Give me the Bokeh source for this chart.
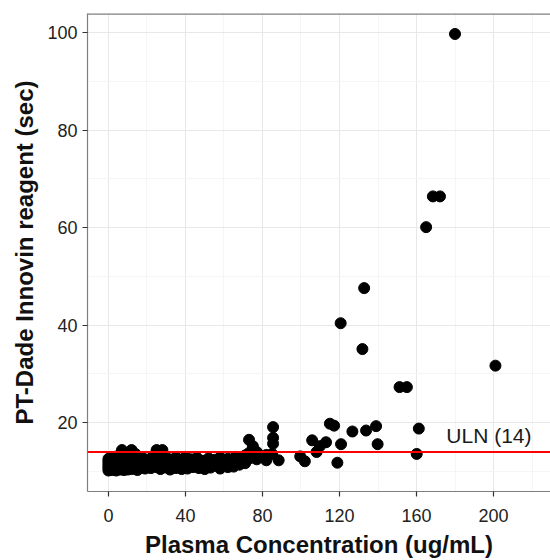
from bokeh.plotting import figure
from bokeh.models import FixedTicker, Span, Label
from bokeh.embed import file_html
from bokeh.resources import INLINE

# Dense cluster below the ULN plus scattered higher values
conc = [
    0, 0, 0, 0, 0, 0, 0,
    1, 1, 1, 1,
    2, 2, 2, 2,
    3, 3, 3, 3,
    4, 4, 4,
    5, 5, 5, 5,
    6, 6, 6,
    7, 7, 7, 7,
    8, 8, 8, 8,
    9, 9,
    10, 10, 10, 10,
    11, 11,
    12, 12, 12, 12,
    13, 13,
    14, 14, 14,
    15, 15, 15,
    17, 17, 18, 18, 19, 19, 20, 20, 22, 22, 23, 23,
    25, 25, 25, 26, 26, 27, 27, 28, 28, 28,
    30, 30, 31, 32, 32, 34, 34, 35, 35, 37, 37, 38,
    40, 40, 40, 41, 43, 43, 44, 46, 46, 47, 49, 49, 50,
    52, 52, 53, 55, 55, 56, 58, 58, 60, 60, 62, 62, 63,
    65, 65, 66, 68, 68, 69, 71, 71, 72, 73, 73, 74, 75, 75,
    77, 77, 78, 80, 82, 82,
    85.5, 85.5, 85.5, 85, 88.4, 99.6, 102, 105.8, 108.1, 109.8,
    113, 115, 117.2, 118.9, 120.6, 120.8, 126.7, 131.9, 132.8, 133.8,
    139, 139.8, 151.2, 155, 160.1, 161.2, 165, 168.5, 172.2, 180, 201,
]
pt = [
    10.2, 10.6, 11.0, 11.4, 11.8, 12.2, 12.6,
    10.4, 11.2, 12.0, 12.8,
    10.3, 10.9, 11.6, 12.4,
    10.5, 11.3, 12.1, 13.0,
    10.2, 11.0, 11.8,
    10.6, 11.5, 12.3, 13.2,
    10.4, 11.1, 12.0,
    10.8, 11.7, 12.6, 14.4,
    10.3, 11.3, 12.2, 13.5,
    10.6, 11.9,
    10.4, 11.2, 12.5, 13.3,
    10.9, 11.8,
    10.5, 11.5, 12.4, 14.4,
    11.0, 12.9,
    10.6, 11.7, 13.6,
    10.3, 11.2, 12.3,
    10.8, 11.9, 11.3, 12.7, 10.6, 12.2, 11.0, 11.8, 10.7, 12.5, 11.4, 13.1,
    10.9, 12.0, 14.4, 11.6, 12.8, 10.5, 13.4, 11.2, 12.3, 14.4,
    10.8, 11.9, 12.6, 10.4, 11.4, 11.1, 12.2, 10.7, 12.9, 11.5, 12.4, 10.5,
    11.0, 12.0, 13.0, 10.6, 11.3, 12.5, 10.9, 11.7, 12.8, 10.7, 11.2, 12.2, 10.5,
    11.5, 12.7, 10.8, 11.9, 12.4, 11.2, 10.6, 12.9, 11.4, 12.1, 10.9, 12.6, 11.6,
    11.0, 12.3, 13.0, 11.4, 12.2, 12.8, 11.7, 13.3, 12.4, 13.8, 16.5, 12.8, 13.2, 15.2,
    12.5, 14.0, 13.5, 12.9, 13.4, 12.3,
    19.1, 16.9, 15.7, 13.6, 12.3, 13.1, 12.1, 16.4, 14.0, 15.2,
    16.0, 19.8, 19.4, 11.8, 40.4, 15.6, 18.2, 35.1, 47.6, 18.4,
    19.3, 15.6, 27.3, 27.3, 13.6, 18.8, 60.1, 66.4, 66.4, 99.7, 31.7,
]
uln = 14
x_ticks = [0, 40, 80, 120, 160, 200, 240]
y_ticks = [20, 40, 60, 80, 100]

X0, X1 = -10.9, 229.6
Y0, Y1 = 5.9, 103.9

p = figure(width=550, height=560, output_backend="svg", toolbar_location=None,
           x_range=(X0, X1), y_range=(Y0, Y1),
           min_border_left=87, min_border_right=0, min_border_top=13, min_border_bottom=66)
p.background_fill_color = "white"
p.border_fill_color = "white"
p.outline_line_color = None

FONT = "Liberation Sans"
for ax in (p.xaxis[0], p.yaxis[0]):
    ax.axis_line_color = "#7F7F7F"
    ax.axis_line_width = 1.2
    ax.major_tick_line_color = "#333333"
    ax.major_tick_line_width = 1.2
    ax.major_tick_out = 5
    ax.major_tick_in = 0
    ax.minor_tick_line_color = None
    ax.major_label_text_font = FONT
    ax.major_label_text_font_size = "18px"
    ax.major_label_text_color = "#222222"
    ax.axis_label_text_font = FONT
    ax.axis_label_text_font_style = "bold"
    ax.axis_label_text_font_size = "24px"
    ax.axis_label_text_color = "#111111"

p.xaxis.ticker = FixedTicker(ticks=x_ticks, minor_ticks=[t - 20 for t in x_ticks])
p.yaxis.ticker = FixedTicker(ticks=y_ticks, minor_ticks=[t - 10 for t in y_ticks])
p.xaxis.axis_label = "Plasma Concentration (ug/mL)"
p.yaxis.axis_label = "PT-Dade Innovin reagent (sec)"
p.xaxis.major_label_standoff = 12
p.yaxis.major_label_standoff = 5
p.xaxis.axis_label_standoff = 6
p.yaxis.axis_label_standoff = 6

for g in (p.xgrid[0], p.ygrid[0]):
    g.grid_line_color = "#E8E8E8"
    g.grid_line_width = 1
    g.minor_grid_line_color = "#F7F4F4"
    g.minor_grid_line_width = 1

p.add_layout(Span(location=Y1, dimension="width", line_color="#7F7F7F", line_width=2.4))

p.scatter(conc, pt, size=11, color="black", line_color="black")
p.add_layout(Span(location=uln, dimension="width", line_color="#FF0000", line_width=2))
p.add_layout(Label(x=175.5, y=17.3, text="ULN (14)", text_font=FONT, text_font_size="21px",
                   text_color="#1A1A1A", text_baseline="middle", text_align="left"))

open("out.html", "w").write(file_html(p, INLINE))
